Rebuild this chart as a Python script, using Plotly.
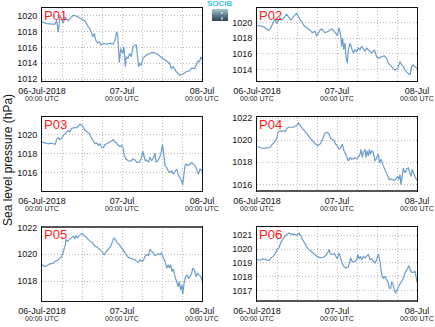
import pandas as pd
import plotly.graph_objects as go

START = pd.Timestamp("2018-07-06 00:00")
END = pd.Timestamp("2018-07-08 00:00")

# Sea level pressure (hPa) per station; hours are offsets from 06-Jul-2018 00:00 UTC
p01_hours = [0, 1.4, 2.9, 3.9, 4.4, 4.9, 5.4, 5.9, 6.4, 6.9, 7.9, 8.4, 9.4, 10.4, 11.9, 12.9, 13.9, 14.6,
             15.2, 15.7, 16.1, 16.7, 17.2, 17.7, 18.4, 19.4, 20.4, 21.4, 21.9, 22.4, 22.7, 23.0, 23.2, 23.6,
             24.2, 24.6, 25.0, 25.3, 25.8, 26.3, 26.8, 27.3, 27.8, 28.3, 28.6, 29.0, 29.3, 29.8, 30.3, 31.3,
             32.3, 33.3, 34.3, 35.3, 36.3, 37.3, 38.3, 38.8, 39.3, 40.3, 41.3, 42.3, 43.3, 44.3, 44.8, 45.8,
             46.3, 46.8, 47.3, 47.6, 48.0]
p01_hpa = [1019.24, 1019.03, 1018.95, 1018.95, 1019.45, 1017.9, 1020.08, 1019.45, 1019.1, 1019.87, 1019.37,
           1019.66, 1020.08, 1019.96, 1019.66, 1019.37, 1018.61, 1018.19, 1017.35, 1017.77, 1016.93, 1016.59,
           1016.72, 1016.29, 1016.51, 1016.42, 1016.51, 1016.42, 1016.93, 1017.98, 1017.56, 1015.87, 1014.06,
           1015.87, 1015.24, 1016.08, 1013.56, 1014.82, 1014.61, 1015.24, 1014.82, 1016.08, 1016.29, 1016.29,
           1015.03, 1013.56, 1013.98, 1013.77, 1014.61, 1015.03, 1015.24, 1015.37, 1015.24, 1014.91, 1014.61,
           1014.19, 1013.98, 1013.35, 1013.56, 1012.93, 1012.51, 1012.63, 1012.93, 1013.05, 1013.35, 1013.35,
           1013.77, 1014.27, 1014.19, 1014.82, 1014.48]

p02_hours = [0, 1.4, 2.4, 3.4, 3.9, 4.4, 4.9, 5.4, 5.9, 6.4, 6.9, 7.4, 7.9, 8.4, 8.9, 9.4, 10.2, 10.9, 11.9,
             12.6, 13.2, 13.6, 14.2, 14.9, 15.9, 16.6, 17.4, 17.9, 18.4, 18.9, 19.4, 19.9, 20.4, 21.4, 22.4,
             22.9, 23.6, 24.1, 24.6, 25.0, 25.4, 25.7, 26.0, 26.4, 26.7, 27.1, 27.4, 27.9, 28.4, 28.9, 29.4,
             29.9, 30.4, 30.9, 31.4, 31.9, 32.4, 32.9, 33.4, 34.4, 35.2, 35.9, 36.6, 37.4, 38.2, 38.9, 39.4,
             39.9, 40.4, 40.9, 41.4, 42.2, 42.9, 43.4, 43.9, 44.4, 45.2, 45.9, 46.4, 46.9, 47.4, 48.0]
p02_hpa = [1019.65, 1019.57, 1019.35, 1019.04, 1019.13, 1019.57, 1020.0, 1020.52, 1019.91, 1020.35, 1020.65,
           1020.35, 1020.65, 1020.87, 1021.09, 1020.78, 1020.35, 1020.78, 1021.22, 1020.65, 1020.22, 1019.91,
           1019.57, 1019.35, 1019.04, 1018.7, 1018.91, 1018.26, 1018.7, 1019.04, 1019.22, 1018.91, 1018.7,
           1018.91, 1019.22, 1019.04, 1018.7, 1018.35, 1019.35, 1018.7, 1016.96, 1018.04, 1016.52, 1017.39,
           1015.65, 1014.78, 1016.52, 1017.39, 1016.74, 1016.09, 1016.52, 1016.3, 1016.74, 1016.52, 1016.96,
           1016.61, 1016.3, 1016.74, 1016.52, 1016.09, 1016.52, 1015.65, 1015.43, 1015.65, 1015.74, 1015.43,
           1014.78, 1014.57, 1014.35, 1014.13, 1013.91, 1014.13, 1015.0, 1014.57, 1014.35, 1013.91, 1013.57,
           1013.26, 1014.35, 1014.57, 1014.35, 1014.13]

p03_hours = [0, 0.9, 1.9, 2.9, 3.9, 4.4, 4.9, 5.4, 5.9, 6.4, 6.9, 7.4, 7.9, 8.4, 8.9, 9.6, 10.4, 10.9, 11.4,
             11.9, 12.4, 12.9, 13.6, 14.2, 14.7, 15.4, 15.9, 16.4, 16.9, 17.4, 17.9, 18.4, 18.9, 19.4, 19.9,
             20.4, 20.9, 21.4, 21.9, 22.4, 22.9, 23.4, 23.9, 24.4, 24.6, 25.2, 25.9, 26.6, 27.2, 27.9, 28.4,
             29.2, 29.9, 30.2, 30.6, 31.0, 31.4, 31.9, 32.4, 32.9, 33.4, 33.9, 34.2, 34.7, 35.2, 35.7, 36.1,
             36.4, 36.9, 37.4, 37.9, 38.4, 38.9, 39.4, 39.9, 40.4, 40.9, 41.4, 41.9, 42.2, 42.6, 42.9, 43.2,
             43.7, 44.2, 44.9, 45.4, 45.9, 46.4, 46.9, 47.4, 48.0]
p03_hpa = [1019.22, 1019.12, 1019.04, 1019.12, 1018.97, 1019.47, 1019.68, 1019.47, 1019.58, 1019.93, 1020.11,
           1020.28, 1020.46, 1020.28, 1020.64, 1020.74, 1020.74, 1020.88, 1021.1, 1020.99, 1020.74, 1020.46,
           1020.28, 1020.11, 1019.75, 1019.4, 1019.04, 1019.12, 1018.87, 1019.04, 1018.69, 1018.62, 1018.97,
           1019.04, 1019.12, 1019.22, 1019.33, 1019.47, 1019.22, 1019.12, 1018.87, 1018.76, 1018.87, 1018.51,
           1017.91, 1017.45, 1017.27, 1017.2, 1017.45, 1017.35, 1017.1, 1017.1, 1017.63, 1018.27, 1017.81,
           1017.27, 1017.35, 1017.1, 1017.63, 1017.27, 1017.56, 1018.05, 1017.1, 1017.27, 1017.56, 1017.98,
           1018.97, 1018.34, 1016.74, 1016.57, 1016.21, 1016.04, 1016.21, 1015.86, 1016.14, 1016.39, 1015.79,
           1015.5, 1015.15, 1014.73, 1015.86, 1016.74, 1016.92, 1016.74, 1016.85, 1017.1, 1016.92, 1016.74,
           1016.39, 1015.86, 1016.39, 1016.21]

p04_hours = [0, 0.9, 1.9, 2.9, 3.9, 4.4, 5.2, 5.9, 6.4, 6.9, 7.4, 7.9, 8.4, 8.9, 9.4, 10.2, 10.9, 11.4, 11.9,
             12.4, 12.9, 13.6, 14.2, 14.9, 15.4, 16.2, 16.9, 17.6, 18.2, 18.9, 19.4, 19.9, 20.4, 21.2, 21.6,
             22.1, 22.6, 23.1, 23.6, 24.1, 24.6, 25.1, 25.6, 26.1, 26.6, 27.1, 27.4, 27.9, 28.4, 28.9, 29.4,
             29.9, 30.4, 30.9, 31.2, 31.6, 31.9, 32.4, 32.7, 33.0, 33.4, 33.7, 34.0, 34.4, 34.9, 35.4, 35.9,
             36.4, 36.7, 37.2, 37.7, 38.2, 38.7, 39.2, 39.7, 40.2, 40.7, 41.2, 41.7, 42.2, 42.5, 42.9, 43.2,
             43.6, 43.9, 44.2, 44.6, 44.9, 45.4, 45.7, 46.2, 46.6, 47.0, 47.4, 48.0]
p04_hpa = [1019.43, 1019.34, 1019.25, 1019.31, 1019.34, 1019.55, 1019.8, 1020.16, 1020.78, 1020.87, 1020.78,
           1020.87, 1020.78, 1021.02, 1021.17, 1021.17, 1021.17, 1021.27, 1021.33, 1021.57, 1021.33, 1021.08,
           1020.87, 1020.56, 1020.41, 1020.1, 1019.86, 1019.64, 1019.49, 1019.64, 1019.86, 1020.26, 1020.65,
           1020.71, 1020.56, 1020.16, 1020.04, 1019.95, 1019.64, 1019.49, 1019.18, 1019.34, 1019.64, 1019.03,
           1018.72, 1018.33, 1018.11, 1018.42, 1018.27, 1018.33, 1018.42, 1018.33, 1018.42, 1018.72, 1019.18,
           1018.42, 1018.88, 1019.18, 1018.42, 1019.03, 1018.57, 1019.18, 1018.72, 1019.03, 1018.88, 1018.11,
           1018.42, 1018.72, 1017.96, 1018.27, 1017.81, 1017.5, 1017.19, 1016.73, 1016.43, 1016.49, 1016.43,
           1016.37, 1016.49, 1016.73, 1016.43, 1016.89, 1015.97, 1016.73, 1017.5, 1017.19, 1017.04, 1017.41,
           1017.5, 1017.19, 1016.73, 1017.35, 1016.89, 1016.67, 1016.37]

p05_hours = [0, 0.9, 1.4, 2.4, 3.4, 3.9, 4.9, 5.9, 6.4, 6.9, 7.2, 7.7, 8.4, 8.9, 9.4, 9.9, 10.2, 10.6, 11.2,
             11.9, 12.4, 12.9, 13.6, 14.4, 15.2, 15.9, 16.6, 17.2, 17.9, 18.6, 19.2, 19.9, 20.6, 21.2, 21.6,
             22.0, 22.6, 23.2, 23.9, 24.4, 24.9, 25.4, 25.9, 26.4, 27.2, 27.9, 28.4, 28.9, 29.4, 29.9, 30.4,
             30.9, 31.4, 31.9, 32.4, 32.9, 33.4, 33.9, 34.4, 34.9, 35.4, 35.9, 36.4, 36.9, 37.4, 37.9, 38.2,
             38.6, 39.0, 39.4, 39.9, 40.4, 40.9, 41.2, 41.6, 42.0, 42.2, 42.7, 43.1, 43.6, 43.9, 44.4, 44.9,
             45.2, 45.7, 46.2, 46.6, 47.1, 47.6, 48.0]
p05_hpa = [1019.22, 1019.09, 1019.14, 1019.29, 1019.34, 1019.47, 1019.59, 1019.85, 1020.23, 1020.61, 1021.11,
           1020.99, 1021.16, 1021.24, 1021.37, 1021.16, 1021.42, 1021.24, 1021.42, 1021.57, 1021.49, 1021.37,
           1021.16, 1020.99, 1020.86, 1020.61, 1020.53, 1020.41, 1020.23, 1019.97, 1020.15, 1020.35, 1020.61,
           1020.99, 1021.24, 1021.11, 1020.86, 1020.73, 1020.48, 1020.23, 1020.1, 1019.85, 1019.77, 1019.72,
           1019.65, 1019.59, 1019.47, 1019.39, 1019.59, 1019.47, 1019.54, 1019.85, 1019.97, 1019.9, 1020.35,
           1020.23, 1020.1, 1019.9, 1019.97, 1020.05, 1019.97, 1020.1, 1019.72, 1019.47, 1018.96, 1019.22,
           1018.96, 1019.22, 1018.71, 1018.89, 1018.33, 1017.95, 1017.57, 1017.95, 1017.32, 1017.7, 1016.99,
           1017.95, 1018.33, 1018.46, 1018.2, 1018.33, 1018.58, 1018.96, 1018.84, 1018.33, 1018.58, 1018.46,
           1018.33, 1018.03]

p06_hours = [0, 0.9, 1.9, 2.9, 3.6, 4.2, 4.9, 5.6, 6.1, 6.6, 7.1, 7.7, 8.2, 8.9, 9.6, 10.4, 11.2, 11.9, 12.6,
             13.2, 13.6, 14.2, 14.9, 15.4, 16.2, 16.9, 17.6, 18.4, 19.2, 19.9, 20.6, 21.2, 21.6, 22.0, 22.6,
             23.2, 23.6, 24.1, 24.6, 25.1, 25.6, 26.2, 26.9, 27.4, 27.7, 28.1, 28.5, 28.9, 29.4, 29.9, 30.2,
             30.6, 31.0, 31.4, 31.9, 32.4, 32.9, 33.4, 33.9, 34.4, 34.9, 35.4, 35.9, 36.4, 36.9, 37.4, 37.9,
             38.4, 38.9, 39.4, 39.7, 40.1, 40.4, 40.7, 41.2, 41.6, 42.0, 42.4, 42.9, 43.4, 43.9, 44.4, 44.9,
             45.2, 45.6, 46.0, 46.4, 46.9, 47.4, 47.7, 48.0]
p06_hpa = [1019.24, 1019.2, 1019.29, 1019.24, 1019.17, 1019.37, 1019.49, 1019.73, 1020.02, 1020.1, 1020.46,
           1020.71, 1020.9, 1021.07, 1021.15, 1021.07, 1021.07, 1021.0, 1021.15, 1020.95, 1020.71, 1020.46,
           1020.22, 1019.98, 1019.85, 1019.68, 1019.54, 1019.44, 1019.37, 1019.41, 1019.54, 1019.73, 1019.98,
           1019.66, 1019.61, 1019.68, 1019.54, 1019.29, 1019.73, 1019.29, 1018.95, 1018.71, 1018.63, 1018.71,
           1019.0, 1019.37, 1019.12, 1019.05, 1019.12, 1019.24, 1019.61, 1019.29, 1019.49, 1019.24, 1019.49,
           1019.37, 1019.49, 1019.61, 1019.24, 1019.29, 1019.12, 1019.0, 1019.24, 1019.66, 1019.12, 1018.15,
           1017.9, 1018.02, 1017.78, 1017.54, 1017.17, 1017.17, 1017.66, 1017.54, 1017.05, 1016.8, 1017.05,
           1017.29, 1017.49, 1017.66, 1017.9, 1018.27, 1018.51, 1018.71, 1018.8, 1018.46, 1018.32, 1018.32,
           1018.39, 1018.02, 1017.59]

stations = ["P01", "P02", "P03", "P04", "P05", "P06"]
hours = [p01_hours, p02_hours, p03_hours, p04_hours, p05_hours, p06_hours]
values = [p01_hpa, p02_hpa, p03_hpa, p04_hpa, p05_hpa, p06_hpa]
y_ranges = [[1011.75, 1021.0], [1012.5, 1021.9], [1014.1, 1021.85],
            [1015.4, 1022.1], [1016.5, 1022.05], [1016.25, 1021.6]]
y_dticks = [2, 2, 2, 2, 2, 1]

tick_hours = [0, 24, 48]
tick_dates = [START + pd.Timedelta(hours=h) for h in tick_hours]
tick_text = ["06-Jul-2018", "07-Jul", "08-Jul"]
tick_sub = "00:00 UTC"

W, H = 435, 327
col_px = [(42, 202), (257, 417)]
row_px = [(8, 81), (117, 191), (227, 301)]

LINE = "#6d9dc8"
GRID = "#bdbdbd"
FONT = "Liberation Sans, Arial, sans-serif"

fig = go.Figure()
layout = dict(width=W, height=H, margin=dict(l=0, r=0, t=0, b=0, autoexpand=False),
              paper_bgcolor="white", plot_bgcolor="white", showlegend=False,
              font=dict(family=FONT, color="#111111", size=9))
annotations = []
shapes = []

for i, name in enumerate(stations):
    r, c = divmod(i, 2)
    x0, x1 = col_px[c]
    yt, yb = row_px[r]
    k = "" if i == 0 else str(i + 1)
    times = [START + pd.Timedelta(hours=h) for h in hours[i]]
    fig.add_trace(go.Scatter(x=times, y=values[i], mode="lines",
                             line=dict(color=LINE, width=1.2),
                             xaxis="x" + k, yaxis="y" + k, hoverinfo="skip"))
    layout["xaxis" + k] = dict(
        domain=[x0 / W, x1 / W], anchor="y" + k, type="date", automargin=False,
        range=[START, END], tickmode="array", tickvals=tick_dates, ticktext=tick_text,
        showgrid=True, gridcolor=GRID, griddash="1px,2px", gridwidth=1,
        minor=dict(tickmode="linear", tick0=START, dtick=6 * 3600 * 1000,
                   showgrid=True, gridcolor=GRID, griddash="1px,2px", gridwidth=1),
        showline=True, linecolor="#111111", linewidth=1, mirror=True,
        ticks="", zeroline=False, tickangle=0, ticklabelstandoff=1,
        tickfont=dict(family=FONT, size=9, color="#111111"),
    )
    layout["yaxis" + k] = dict(
        domain=[1 - yb / H, 1 - yt / H], anchor="x" + k, automargin=False,
        range=y_ranges[i], dtick=y_dticks[i], tick0=1000,
        showgrid=True, gridcolor=GRID, griddash="1px,2px", gridwidth=1,
        showline=True, linecolor="#111111", linewidth=1, mirror=True,
        ticks="", zeroline=False, ticklabelstandoff=2,
        tickfont=dict(family=FONT, size=9, color="#111111"),
    )
    annotations.append(dict(text=name, xref="x" + k + " domain", yref="y" + k + " domain",
                            x=0.0, y=1.0, xanchor="left", yanchor="top", showarrow=False,
                            xshift=0, yshift=2,
                            font=dict(family=FONT, size=13, color="#ff1a1a")))
    # second line of each time label
    for t in tick_dates:
        annotations.append(dict(text=tick_sub, xref="x" + k, yref="paper", x=t,
                                y=1 - (yb + 12) / H, xanchor="center", yanchor="top",
                                showarrow=False,
                                font=dict(family=FONT, size=7, color="#222222")))

# heavier frame edges
for (i, edge) in [(3, "bottom"), (4, "top"), (5, "bottom")]:
    r, c = divmod(i, 2)
    x0, x1 = col_px[c]
    yt, yb = row_px[r]
    yy = 1 - (yb if edge == "bottom" else yt) / H
    shapes.append(dict(type="line", xref="paper", yref="paper", x0=x0 / W, x1=x1 / W,
                       y0=yy, y1=yy, line=dict(color="#555555", width=2)))

# y-axis title shared by all panels
annotations.append(dict(text="Sea level pressure (hPa)", xref="paper", yref="paper",
                        x=8 / W, y=1 - 160 / H, textangle=-90, showarrow=False,
                        xanchor="center", yanchor="middle",
                        font=dict(family=FONT, size=12, color="#111111")))

# small logo between the top panels
logo_steps = ["#9dbcc8", "#86a5b2", "#6d8c9a", "#587584", "#46606e", "#374d5b"]
lx0, lx1, ly0 = 212, 228, 9
for j, col in enumerate(logo_steps):
    shapes.append(dict(type="rect", xref="paper", yref="paper",
                       x0=lx0 / W, x1=lx1 / W,
                       y0=1 - (ly0 + 2 * (j + 1)) / H, y1=1 - (ly0 + 2 * j) / H,
                       line=dict(width=0), fillcolor=col))
shapes.append(dict(type="line", xref="paper", yref="paper", x0=222 / W, x1=222 / W,
                   y0=1 - 20 / H, y1=1 - 12 / H, line=dict(color="white", width=1, dash="dot")))
annotations.append(dict(text="<b>SOCIB</b>", xref="paper", yref="paper", x=220 / W, y=1.0,
                        xanchor="center", yanchor="top", showarrow=False, borderpad=0,
                        yshift=2, font=dict(family=FONT, size=8, color="#45c3da")))

layout["annotations"] = annotations
layout["shapes"] = shapes
fig.update_layout(**layout)
fig.write_html("out.html")
